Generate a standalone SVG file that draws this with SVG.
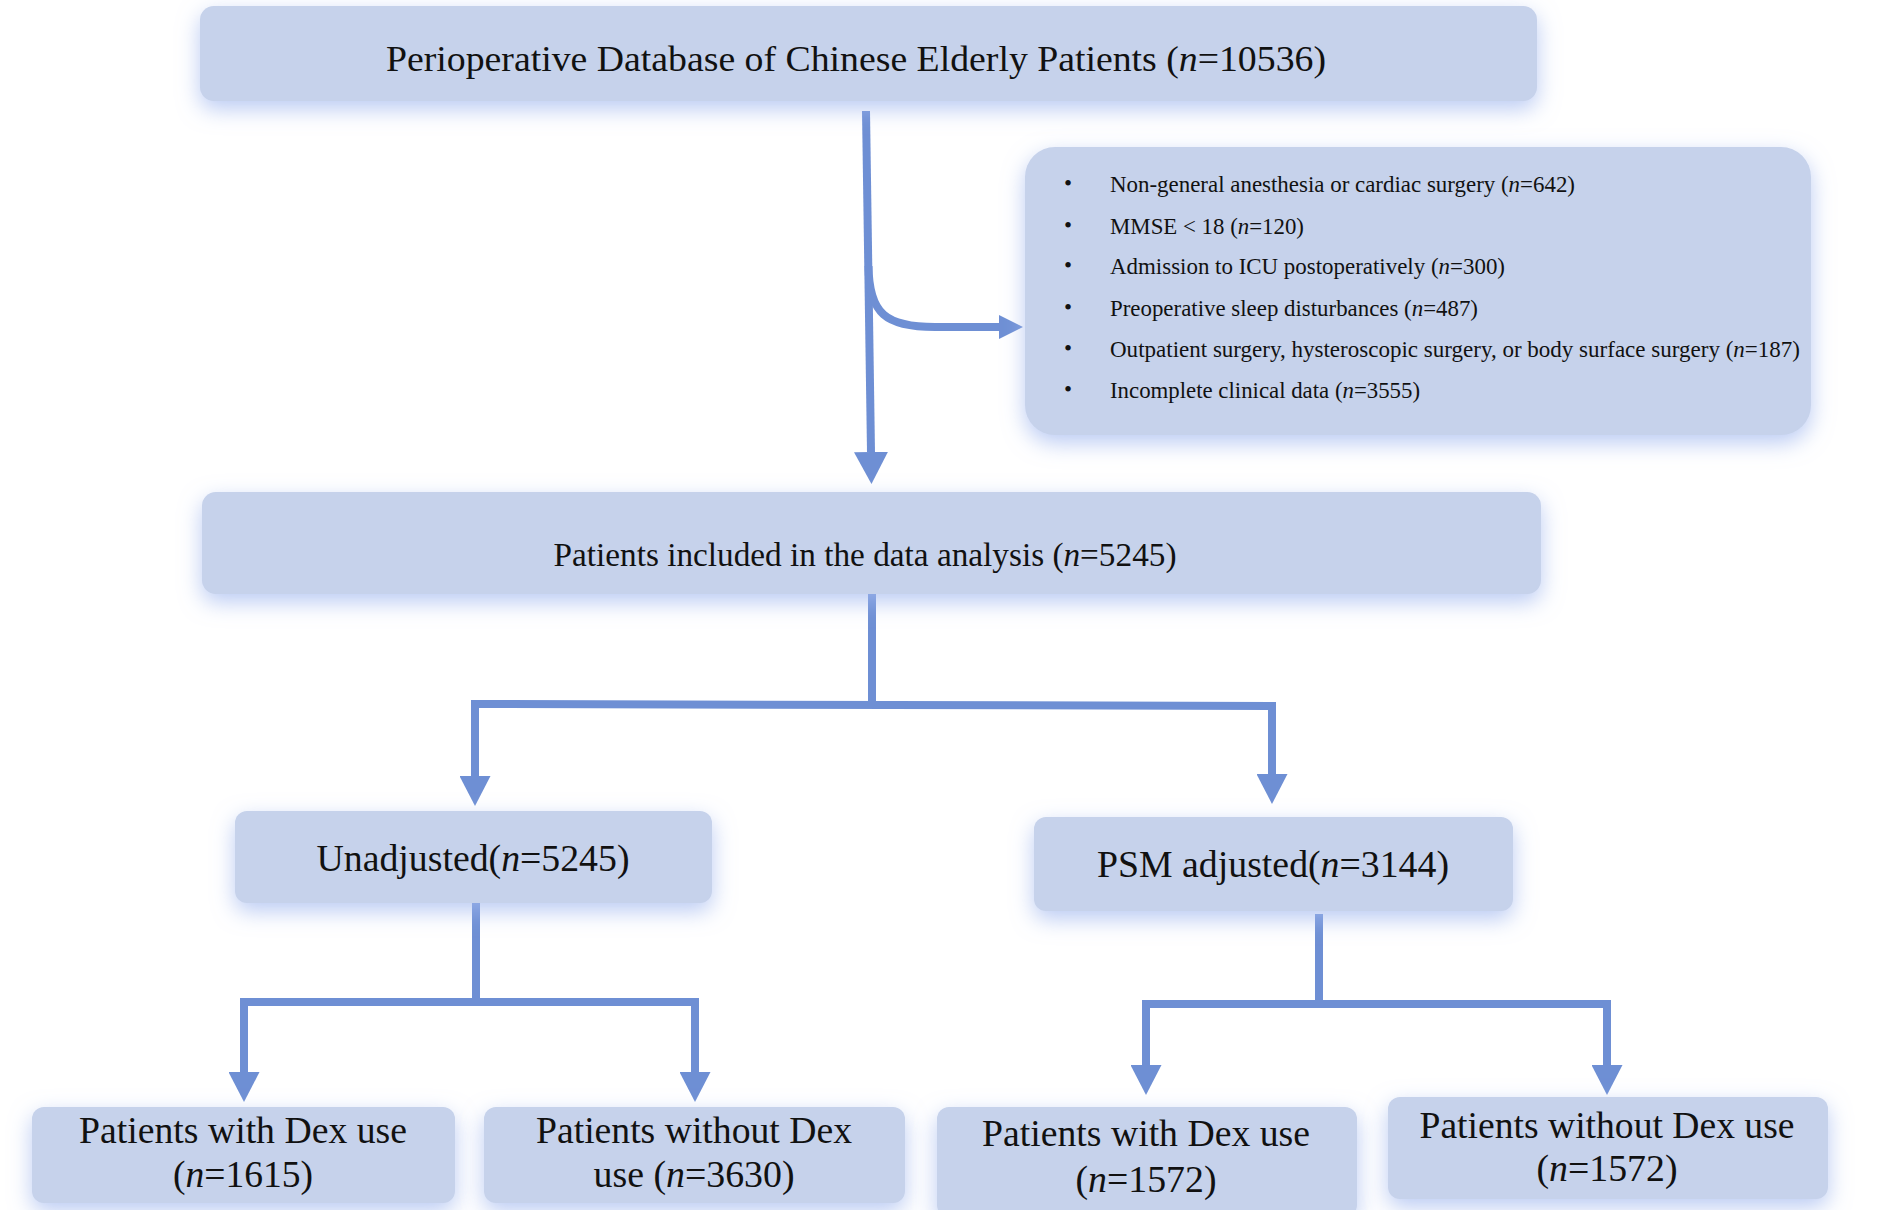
<svg xmlns="http://www.w3.org/2000/svg" width="1886" height="1210" viewBox="0 0 1886 1210">
<defs>
<filter id="glow" x="-10%" y="-30%" width="120%" height="170%">
<feGaussianBlur in="SourceAlpha" stdDeviation="11" result="b"/>
<feOffset in="b" dy="8" result="o"/>
<feFlood flood-color="#a3b9ef" flood-opacity="0.75"/>
<feComposite in2="o" operator="in" result="s"/>
<feMerge><feMergeNode in="s"/><feMergeNode in="SourceGraphic"/></feMerge>
</filter>
<marker id="ah" markerUnits="userSpaceOnUse" markerWidth="32" markerHeight="34" viewBox="0 0 32 34" refX="0" refY="17" orient="auto">
<path d="M0,0 L32,17 L0,34 z" fill="#6e8fd4"/>
</marker>
<marker id="ahm" markerUnits="userSpaceOnUse" markerWidth="30" markerHeight="31" viewBox="0 0 30 31" refX="0" refY="15.5" orient="auto">
<path d="M0,0 L30,15.5 L0,31 z" fill="#6e8fd4"/>
</marker>
<marker id="ahs" markerUnits="userSpaceOnUse" markerWidth="24" markerHeight="24" viewBox="0 0 24 24" refX="0" refY="12" orient="auto">
<path d="M0,0 L24,12 L0,24 z" fill="#6e8fd4"/>
</marker>
</defs>
<style>
.box{fill:#c6d2eb;filter:url(#glow);}
.t{font-family:"Liberation Serif","Times New Roman",serif;fill:#111;}
.i{font-style:italic;}
.ln{fill:none;stroke:#6e8fd4;stroke-width:8;}
</style>
<rect width="1886" height="1210" fill="#ffffff"/>

<g id="connectors">
<path class="ln" stroke-width="9" d="M866,111 L871,452" marker-end="url(#ah)"/>
<path class="ln" stroke-width="7" d="M868.5,266 C869,314 886,327 935,327 L999,327" marker-end="url(#ahs)"/>
<path class="ln" d="M872,594 L872,704 M472,704 L1276,706" />
<path class="ln" d="M475,700 L475,776" marker-end="url(#ahm)"/>
<path class="ln" d="M1272,702 L1272,774" marker-end="url(#ahm)"/>
<path class="ln" d="M476,903 L476,1002 M240,1002 L699,1002"/>
<path class="ln" d="M244,998 L244,1072" marker-end="url(#ahm)"/>
<path class="ln" d="M695,998 L695,1072" marker-end="url(#ahm)"/>
<path class="ln" d="M1319,914 L1319,1004 M1142,1004 L1611,1004"/>
<path class="ln" d="M1146,1000 L1146,1065" marker-end="url(#ahm)"/>
<path class="ln" d="M1607,1000 L1607,1065" marker-end="url(#ahm)"/>
</g>

<g id="n_database">
<rect class="box" x="200" y="6" width="1337" height="95" rx="14"/>
<text class="t" x="856" y="71" font-size="35" text-anchor="middle" textLength="940" lengthAdjust="spacingAndGlyphs">Perioperative Database of Chinese Elderly Patients (<tspan class="i">n</tspan>=10536)</text>
</g>

<g id="n_exclusion">
<rect class="box" x="1025" y="147" width="786" height="288" rx="30"/>
<g class="t" font-size="23">
<text x="1064" y="191">•</text>
<text x="1110" y="192" textLength="465" lengthAdjust="spacingAndGlyphs">Non-general anesthesia or cardiac surgery (<tspan class="i">n</tspan>=642)</text>
<text x="1064" y="233">•</text>
<text x="1110" y="234" textLength="194" lengthAdjust="spacingAndGlyphs">MMSE &lt; 18 (<tspan class="i">n</tspan>=120)</text>
<text x="1064" y="273">•</text>
<text x="1110" y="274" textLength="395" lengthAdjust="spacingAndGlyphs">Admission to ICU postoperatively (<tspan class="i">n</tspan>=300)</text>
<text x="1064" y="315">•</text>
<text x="1110" y="316" textLength="368" lengthAdjust="spacingAndGlyphs">Preoperative sleep disturbances (<tspan class="i">n</tspan>=487)</text>
<text x="1064" y="356">•</text>
<text x="1110" y="357" textLength="690" lengthAdjust="spacingAndGlyphs">Outpatient surgery, hysteroscopic surgery, or body surface surgery (<tspan class="i">n</tspan>=187)</text>
<text x="1064" y="397">•</text>
<text x="1110" y="398" textLength="310" lengthAdjust="spacingAndGlyphs">Incomplete clinical data (<tspan class="i">n</tspan>=3555)</text>
</g>
</g>

<g id="n_included">
<rect class="box" x="202" y="492" width="1339" height="102" rx="14"/>
<text class="t" x="865" y="566" font-size="33" text-anchor="middle" textLength="623" lengthAdjust="spacingAndGlyphs">Patients included in the data analysis (<tspan class="i">n</tspan>=5245)</text>
</g>

<g id="n_unadjusted">
<rect class="box" x="235" y="811" width="477" height="92" rx="12"/>
<text class="t" x="473" y="871" font-size="38" text-anchor="middle" textLength="313" lengthAdjust="spacingAndGlyphs">Unadjusted(<tspan class="i">n</tspan>=5245)</text>
</g>

<g id="n_psm">
<rect class="box" x="1034" y="817" width="479" height="94" rx="12"/>
<text class="t" x="1273" y="877" font-size="38" text-anchor="middle" textLength="352" lengthAdjust="spacingAndGlyphs">PSM adjusted(<tspan class="i">n</tspan>=3144)</text>
</g>

<g id="n_dex_unadj">
<rect class="box" x="32" y="1107" width="423" height="96" rx="12"/>
<text class="t" x="243" y="1143" font-size="37" text-anchor="middle" textLength="328" lengthAdjust="spacingAndGlyphs">Patients with Dex use</text>
<text class="t" x="243" y="1187" font-size="37" text-anchor="middle" textLength="140" lengthAdjust="spacingAndGlyphs">(<tspan class="i">n</tspan>=1615)</text>
</g>

<g id="n_nodex_unadj">
<rect class="box" x="484" y="1107" width="421" height="96" rx="12"/>
<text class="t" x="694" y="1143" font-size="37" text-anchor="middle" textLength="316" lengthAdjust="spacingAndGlyphs">Patients without Dex</text>
<text class="t" x="694" y="1187" font-size="37" text-anchor="middle" textLength="201" lengthAdjust="spacingAndGlyphs">use (<tspan class="i">n</tspan>=3630)</text>
</g>

<g id="n_dex_psm">
<rect class="box" x="937" y="1107" width="420" height="110" rx="12"/>
<text class="t" x="1146" y="1146" font-size="37" text-anchor="middle" textLength="328" lengthAdjust="spacingAndGlyphs">Patients with Dex use</text>
<text class="t" x="1146" y="1192" font-size="37" text-anchor="middle" textLength="141" lengthAdjust="spacingAndGlyphs">(<tspan class="i">n</tspan>=1572)</text>
</g>

<g id="n_nodex_psm">
<rect class="box" x="1388" y="1097" width="440" height="102" rx="12"/>
<text class="t" x="1607" y="1138" font-size="37" text-anchor="middle" textLength="375" lengthAdjust="spacingAndGlyphs">Patients without Dex use</text>
<text class="t" x="1607" y="1181" font-size="37" text-anchor="middle" textLength="141" lengthAdjust="spacingAndGlyphs">(<tspan class="i">n</tspan>=1572)</text>
</g>
</svg>
